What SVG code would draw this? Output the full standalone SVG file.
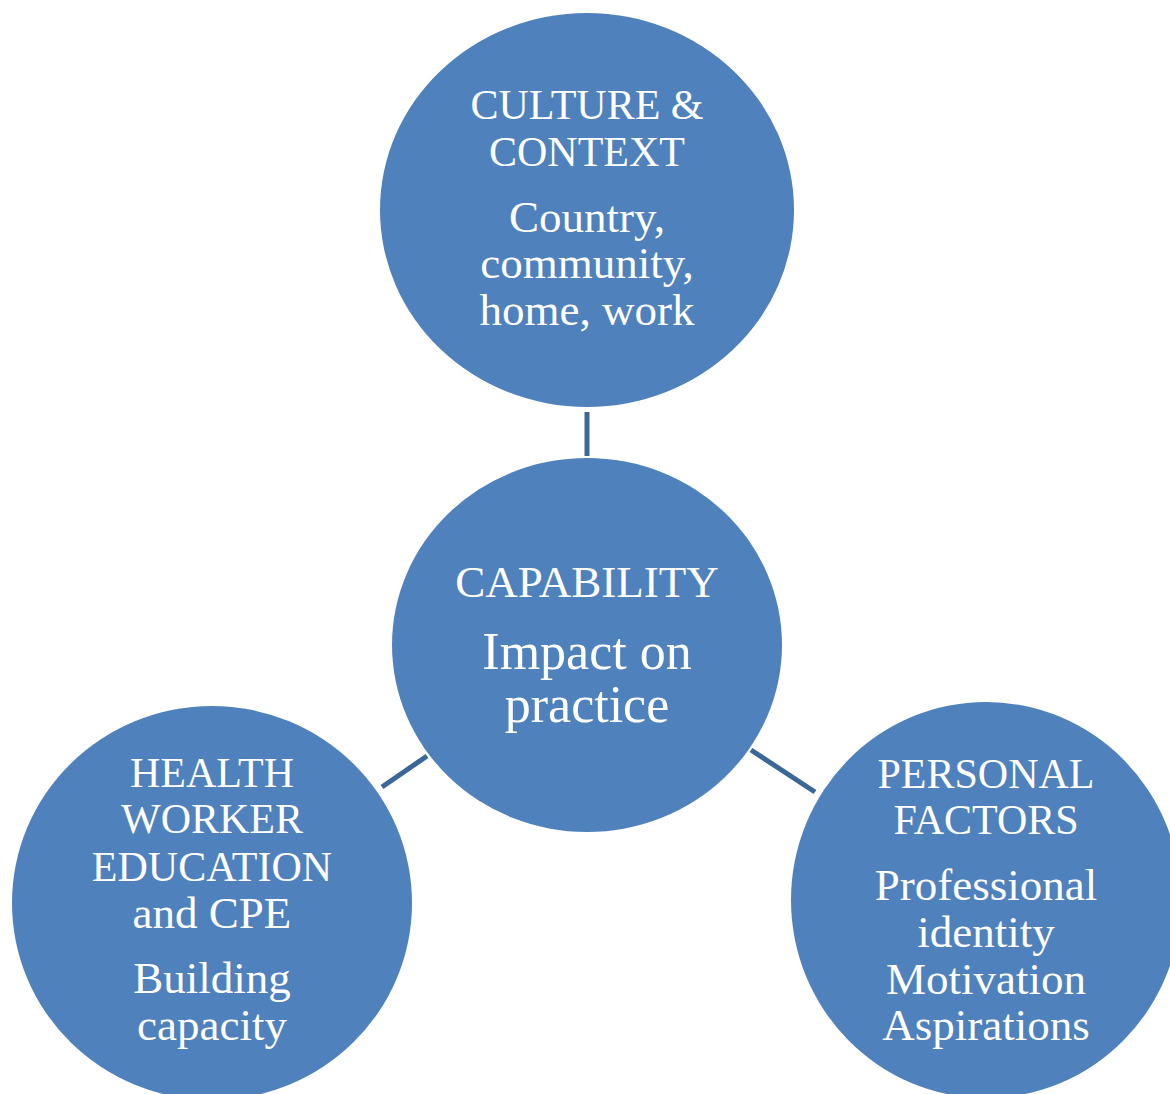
<svg xmlns="http://www.w3.org/2000/svg" width="1170" height="1094" viewBox="0 0 1170 1094">
<style>
.node{fill:#4F81BD;}
.conn{stroke:#3B6698;stroke-width:5;fill:none;}
text{font-family:"Liberation Serif","Times New Roman",serif;fill:#FFFFFF;text-anchor:middle;}
.h{font-size:42px;}
.b{font-size:45px;}
.ch{font-size:45px;}
.cb{font-size:52px;}
</style>
<rect width="1170" height="1094" fill="#FFFFFF"/>
<g id="connectors">
<line class="conn" x1="587" y1="412" x2="587" y2="456"/>
<line class="conn" x1="382" y1="787" x2="427" y2="756"/>
<line class="conn" x1="751" y1="750" x2="815" y2="792"/>
</g>
<g id="culture">
<ellipse class="node" cx="587" cy="210" rx="207" ry="197"/>
<text class="h" x="587" y="119">CULTURE &amp;</text>
<text class="h" x="587" y="166">CONTEXT</text>
<text class="b" x="587" y="232">Country,</text>
<text class="b" x="587" y="278">community,</text>
<text class="b" x="587" y="325">home, work</text>
</g>
<g id="capability">
<ellipse class="node" cx="587" cy="645" rx="195" ry="187"/>
<text class="ch" x="587" y="597">CAPABILITY</text>
<text class="cb" x="587" y="669">Impact on</text>
<text class="cb" x="587" y="722">practice</text>
</g>
<g id="health">
<ellipse class="node" cx="212" cy="903" rx="200" ry="197"/>
<text class="h" x="212" y="787">HEALTH</text>
<text class="h" x="212" y="833">WORKER</text>
<text class="h" x="212" y="881">EDUCATION</text>
<text class="b" x="212" y="928">and CPE</text>
<text class="b" x="212" y="993">Building</text>
<text class="b" x="212" y="1040">capacity</text>
</g>
<g id="personal">
<ellipse class="node" cx="986" cy="900" rx="195" ry="198"/>
<text class="h" x="986" y="788">PERSONAL</text>
<text class="h" x="986" y="834">FACTORS</text>
<text class="b" x="986" y="900">Professional</text>
<text class="b" x="986" y="947">identity</text>
<text class="b" x="986" y="994">Motivation</text>
<text class="b" x="986" y="1040">Aspirations</text>
</g>
</svg>
